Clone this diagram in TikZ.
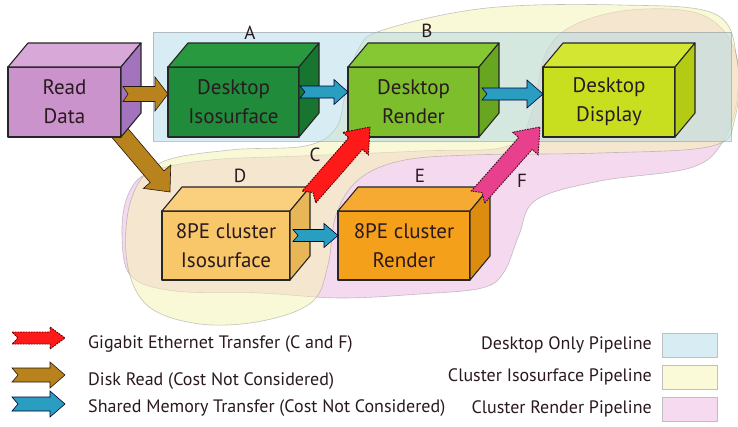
\documentclass[tikz,border=0pt]{standalone}
\usepackage{fontspec}
\setmainfont{PT Sans}
\usetikzlibrary{calc}
\pgfdeclarelayer{back}
\pgfdeclarelayer{behind}
\pgfdeclarelayer{front}
\pgfsetlayers{back,behind,main,front}

\definecolor{rdF}{HTML}{CB93CB}\definecolor{rdT}{HTML}{D8A8D8}\definecolor{rdS}{HTML}{A274BE}
\definecolor{diF}{HTML}{1F8B3B}\definecolor{diT}{HTML}{28993F}\definecolor{diS}{HTML}{187530}
\definecolor{drF}{HTML}{7CBE2B}\definecolor{drT}{HTML}{86C734}\definecolor{drS}{HTML}{68A622}
\definecolor{ddF}{HTML}{C8DF20}\definecolor{ddT}{HTML}{D2E632}\definecolor{ddS}{HTML}{B3CB14}
\definecolor{ciF}{HTML}{F8C76A}\definecolor{ciT}{HTML}{FACF7E}\definecolor{ciS}{HTML}{E9B657}
\definecolor{crF}{HTML}{F4A01A}\definecolor{crT}{HTML}{F6AA32}\definecolor{crS}{HTML}{DC8C0E}
\definecolor{txt}{HTML}{2A1A20}
\definecolor{brownA}{HTML}{B8821C}
\definecolor{tealA}{HTML}{2A9EC0}
\definecolor{redA}{HTML}{FF1A1A}
\definecolor{pinkA}{HTML}{E8408C}
\definecolor{blueR}{HTML}{B0DAE8}
\definecolor{yelR}{HTML}{F5F3B1}
\definecolor{pinkR}{HTML}{EDB5E0}

\tikzset{
  boxline/.style={draw=black!85, line width=1.1pt, line join=round},
  face/.style={boxline, outer sep=0pt, inner sep=0pt, text=txt,
    font=\fontsize{21}{29}\selectfont, align=center},
  lbl/.style={text=txt, font=\fontsize{19}{20}\selectfont},
  legtxt/.style={text=txt, font=\fontsize{18}{20}\selectfont, inner sep=0pt},
  brownarrow/.style={fill=brownA, draw=black!80!brown, line width=0.6pt, line join=miter},
  tealarrow/.style={fill=tealA, draw=black!80!blue, line width=0.6pt, line join=miter},
  redarrow/.style={fill=redA, draw=black!70!red, line width=0.9pt, dash pattern=on 1.6pt off 1.1pt, line join=miter},
  pinkarrow/.style={fill=pinkA, draw=black!75!pinkA, line width=0.9pt, dash pattern=on 1.6pt off 1.1pt, line join=miter},
  region/.style={draw=black!45, line width=0.6pt, draw opacity=0.5, fill opacity=0.5},
  swatch/.style={draw=black!25, line width=0.6pt, minimum width=55pt, minimum height=24pt, inner sep=0pt},
}

\newcommand\cuboidfaces[3]{%
  \draw[boxline, fill=#3] (#1.north west) -- ++(20,-24) -- ($(#1.north east)+(20,-24)$) -- (#1.north east) -- cycle;
  \draw[boxline, fill=#2] (#1.north east) -- ++(20,-24) -- ($(#1.south east)+(20,-24)$) -- (#1.south east) -- cycle;}

% #1 style, #2 tail, #3 tip, #4 shaft half width, #5 head half width, #6 head length, #7 notch
\newcommand\fatarrow[7]{%
  \path (#2); \pgfgetlastxy{\fax}{\fay}%
  \path (#3); \pgfgetlastxy{\fbx}{\fby}%
  \pgfmathsetmacro\faang{atan2(\fby-\fay,\fbx-\fax)}%
  \pgfmathsetmacro\falen{veclen(\fbx-\fax,\fby-\fay)}%
  \begin{scope}[shift={(#2)}, rotate=\faang]
    \draw[#1] (0,#4) -- ({\falen-#6},#4) -- ({\falen-#6},#5) -- (\falen,0)
      -- ({\falen-#6},-#5) -- ({\falen-#6},-#4) -- (0,-#4) -- (#7,0) -- cycle;
  \end{scope}}

\begin{document}
\begin{tikzpicture}[x=1pt,y=-1pt]
\useasboundingbox (0,0) rectangle (738,426);

% ---- background regions
\begin{pgfonlayer}{back}
  \fill[white] (0,0) rectangle (738,426);
  \draw[region, fill=pinkR] plot[smooth cycle, tension=0.6] coordinates {
    (122,235) (128,195) (150,172) (210,160) (300,156) (420,151) (508,146) (532,112)
    (545,55) (572,26) (630,10) (700,14) (734,48) (737,100) (722,143) (690,168) (600,181)
    (536,200) (519,235) (504,272) (482,288) (420,294) (340,298) (260,293) (175,291) (131,276)};
  \draw[region, fill=yelR] plot[smooth cycle, tension=0.6] coordinates {
    (383,30) (487,8) (620,5) (715,14) (737,60) (735,118) (712,146) (600,153) (470,155)
    (400,161) (358,180) (336,215) (328,265) (312,302) (262,321) (200,324) (148,306)
    (127,262) (131,200) (160,163) (230,150) (305,146) (336,128) (346,90) (358,50)};
  \draw[region, fill=blueR] (153,32) rectangle (731,141);
\end{pgfonlayer}

% ---- boxes (front faces)
\node[face, fill=rdF, minimum width=113pt, minimum height=70pt] (rd) at (64.5,102) {Read\\Data};
\node[face, fill=diF, minimum width=131pt, minimum height=70pt] (di) at (233.5,102) {Desktop\\Isosurface};
\node[face, fill=drF, minimum width=131pt, minimum height=70pt] (dr) at (413.5,102) {Desktop\\Render};
\node[face, fill=ddF, minimum width=132pt, minimum height=70pt] (dd) at (609,102) {Desktop\\Display};
\node[face, fill=ciF, minimum width=128pt, minimum height=69pt] (ci) at (226,245.5) {8PE cluster\\Isosurface};
\node[face, fill=crF, minimum width=132pt, minimum height=69pt] (cr) at (404,245.5) {8PE cluster\\Render};

\cuboidfaces{rd}{rdS}{rdT}
\cuboidfaces{di}{diS}{diT}
\cuboidfaces{dr}{drS}{drT}
\cuboidfaces{dd}{ddS}{ddT}
\cuboidfaces{ci}{ciS}{ciT}
\cuboidfaces{cr}{crS}{crT}

% ---- connector end points
\coordinate (a1t) at ($(rd.east)+(2,-8)$);
\coordinate (a1h) at ($(di.west)+(0,-8)$);
\coordinate (a2t) at ($(di.east)+(1,-10)$);
\coordinate (a2h) at ($(dr.west)+(0,-10)$);
\coordinate (a3t) at ($(dr.east)+(3,-8)$);
\coordinate (a3h) at ($(dd.west)+(0,-8)$);
\coordinate (a4t) at ($(ci.east)+(3,-10)$);
\coordinate (a4h) at ($(cr.west)+(0,-10)$);
\coordinate (a5t) at ($(rd.south)+(47,-14)$);
\coordinate (a5h) at ($(ci.north west)+(8,-19)$);
\coordinate (a6t) at ($(ci.north east)+(19,-14)$);
\coordinate (a6h) at ($(dr.south west)+(22,-10)$);
\coordinate (a7t) at ($(cr.north east)+(8,-14)$);
\coordinate (a7h) at ($(dd.south west)+(-3,-10)$);

\begin{pgfonlayer}{behind}
  \fatarrow{brownarrow}{a5t}{a5h}{9}{18}{20}{6}
\end{pgfonlayer}

\begin{pgfonlayer}{front}
  \fatarrow{brownarrow}{a1t}{a1h}{7.5}{17}{13}{5}
  \fatarrow{tealarrow}{a2t}{a2h}{6}{12.5}{14}{5}
  \fatarrow{tealarrow}{a3t}{a3h}{6}{14}{16}{5}
  \fatarrow{tealarrow}{a4t}{a4h}{6}{12}{14}{5}
  \fatarrow{redarrow}{a6t}{a6h}{9}{17}{22}{6}
  \fatarrow{pinkarrow}{a7t}{a7h}{9}{17}{22}{6}
\end{pgfonlayer}

% ---- letters
\node[lbl] (la) at (250,33) {A};
\node[lbl] (lb) at (427,31) {B};
\node[lbl] (lc) at (315,155) {C};
\node[lbl] (ld) at (240,176) {D};
\node[lbl] (le) at (420,176) {E};
\node[lbl] (lf) at (522,181) {F};

% ---- legend
\coordinate (l1t) at (12,338); \coordinate (l1h) at (65,338);
\coordinate (l2t) at (12,375); \coordinate (l2h) at (65,375);
\coordinate (l3t) at (12,404); \coordinate (l3h) at (65,404);
\fatarrow{redarrow}{l1t}{l1h}{6}{11}{15}{6}
\fatarrow{brownarrow}{l2t}{l2h}{7}{13}{15}{6}
\fatarrow{tealarrow}{l3t}{l3h}{7}{13}{15}{6}
\node[legtxt, anchor=west] (t1) at (88,344) {Gigabit Ethernet Transfer (C and F)};
\node[legtxt, anchor=west] (t2) at (88,381) {Disk Read (Cost Not Considered)};
\node[legtxt, anchor=west] (t3) at (88,408) {Shared Memory Transfer (Cost Not Considered)};

\node[swatch, fill=blueR!50] (s1) at (689.5,345) {};
\node[swatch, fill=yelR!50] (s2) at (689.5,377) {};
\node[swatch, fill=pinkR!50] (s3) at (689.5,409) {};
\node[legtxt, anchor=east] (r1) at (652,345) {Desktop Only Pipeline};
\node[legtxt, anchor=east] (r2) at (652,377) {Cluster Isosurface Pipeline};
\node[legtxt, anchor=east] (r3) at (652,409) {Cluster Render Pipeline};
\end{tikzpicture}
\end{document}
